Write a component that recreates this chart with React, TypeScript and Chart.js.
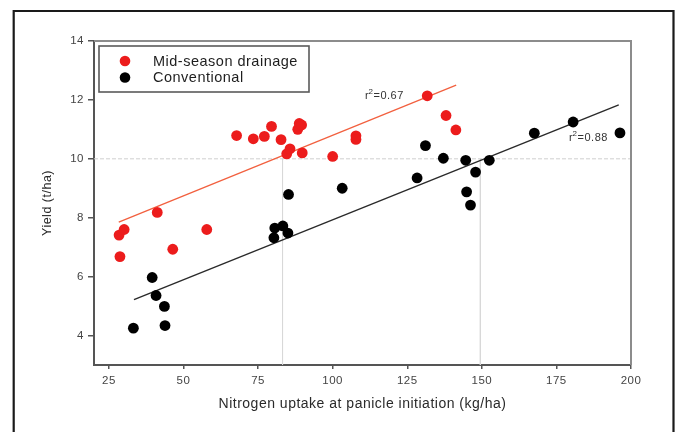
import React, { useEffect, useRef } from "react";
import { Chart, registerables } from "chart.js";

Chart.register(...registerables);

const FONT = '"Liberation Sans", Arial, Helvetica, sans-serif';

// Mid-season drainage (red)
const drainageX = [28.4, 30.1, 28.7, 41.2, 46.4, 57.8, 67.8, 73.4, 77.1, 79.5, 82.7, 84.6, 85.7, 88.3, 88.8, 89.6, 89.8, 100.0, 107.8, 107.8, 131.7, 138.0, 141.3];
const drainageY = [7.41, 7.6, 6.68, 8.18, 6.93, 7.6, 10.79, 10.68, 10.76, 11.1, 10.65, 10.17, 10.34, 11.0, 11.2, 11.15, 10.2, 10.08, 10.78, 10.66, 12.14, 11.47, 10.98];

// Conventional (black)
const conventionalX = [33.2, 39.5, 40.8, 43.6, 43.8, 80.3, 80.6, 83.3, 85.0, 85.2, 103.2, 128.3, 131.1, 137.1, 144.6, 144.9, 146.2, 147.9, 152.5, 167.6, 180.6, 196.3];
const conventionalY = [4.25, 5.97, 5.36, 4.99, 4.34, 7.32, 7.65, 7.72, 7.48, 8.79, 9.0, 9.35, 10.45, 10.02, 9.95, 8.88, 8.43, 9.55, 9.95, 10.87, 11.25, 10.88];

// Regression lines (end points)
const drainageFitX = [28.3, 141.4];
const drainageFitY = [7.85, 12.5];
const conventionalFitX = [33.4, 195.9];
const conventionalFitY = [5.22, 11.83];

// Reference lines
const refYieldValue = 10;
const refUptakeValues = [83.2, 149.5];

const xTicks = [25, 50, 75, 100, 125, 150, 175, 200];
const yTicks = [4, 6, 8, 10, 12, 14];
const xRange = [20, 200];
const yRange = [3, 14];

const seriesLabels = ["Mid-season drainage", "Conventional"];
const seriesColors = ["#ec1c1c", "#000000"];
const fitColors = ["#f2603f", "#2a2a2a"];
const r2Values = ["=0.67", "=0.88"];
const r2AnchorX = [110.8, 179.2];
const r2AnchorY = [12.14, 10.72];

const xTitle = "Nitrogen uptake at panicle initiation (kg/ha)";
const yTitle = "Yield (t/ha)";

const toPoints = (xs: number[], ys: number[]) => xs.map((x, i) => ({ x, y: ys[i] }));

const SPACING = "0.5px";

const decorPlugin = {
  id: "decor",
  beforeUpdate(chart: any) {
    chart.ctx.letterSpacing = SPACING;
  },
  beforeDraw(chart: any) {
    const ctx = chart.ctx;
    ctx.letterSpacing = SPACING;
    ctx.save();
    ctx.fillStyle = "#ffffff";
    ctx.fillRect(0, 0, chart.width, chart.height);
    ctx.strokeStyle = "#1a1a1a";
    ctx.lineWidth = 2.2;
    ctx.beginPath();
    ctx.moveTo(13.7, chart.height + 10);
    ctx.lineTo(13.7, 11);
    ctx.lineTo(673.5, 11);
    ctx.lineTo(673.5, chart.height + 10);
    ctx.stroke();
    ctx.restore();
  },
  afterDatasetsDraw(chart: any) {
    const ctx = chart.ctx;
    const a = chart.chartArea;
    const xs = chart.scales.x;
    const ys = chart.scales.y;
    ctx.save();
    // top & right frame
    ctx.strokeStyle = "#8c8c8c";
    ctx.lineWidth = 2;
    ctx.beginPath();
    ctx.moveTo(a.left, a.top);
    ctx.lineTo(a.right, a.top);
    ctx.lineTo(a.right, a.bottom);
    ctx.stroke();

    // legend box
    const bx = a.left + 5;
    const by = a.top + 5;
    const bw = 210;
    const bh = 46;
    ctx.fillStyle = "#ffffff";
    ctx.fillRect(bx, by, bw, bh);
    ctx.strokeStyle = "#5a5a5a";
    ctx.lineWidth = 1.6;
    ctx.strokeRect(bx, by, bw, bh);
    ctx.font = `14.5px ${FONT}`;
    ctx.textBaseline = "middle";
    ctx.textAlign = "left";
    seriesLabels.forEach((lab, i) => {
      const cy = by + 15 + i * 16.5;
      ctx.fillStyle = seriesColors[i];
      ctx.beginPath();
      ctx.arc(bx + 26, cy, 5.3, 0, Math.PI * 2);
      ctx.fill();
      ctx.fillStyle = "#1e1e1e";
      ctx.fillText(lab, bx + 54, cy + 0.5);
    });

    // r² annotations (r with superscript 2)
    ctx.fillStyle = "#333333";
    ctx.textBaseline = "middle";
    r2Values.forEach((val, i) => {
      const px = xs.getPixelForValue(r2AnchorX[i]);
      const py = ys.getPixelForValue(r2AnchorY[i]);
      ctx.font = `11px ${FONT}`;
      ctx.fillText("r", px, py);
      const rw = ctx.measureText("r").width;
      ctx.font = `8px ${FONT}`;
      ctx.fillText("2", px + rw - 0.5, py - 4);
      const sw = ctx.measureText("2").width;
      ctx.font = `11px ${FONT}`;
      ctx.fillText(val, px + rw + sw - 0.5, py);
    });
    ctx.restore();
  },
};

export default function App() {
  const ref = useRef<HTMLCanvasElement | null>(null);

  useEffect(() => {
    if (!ref.current) return;
    const refLine = { borderColor: "#cfcfcf", borderWidth: 1, pointRadius: 0, showLine: true, fill: false };
    const chart = new Chart(ref.current, {
      type: "scatter",
      data: {
        datasets: [
          {
            label: seriesLabels[0],
            data: toPoints(drainageX, drainageY),
            backgroundColor: seriesColors[0],
            borderColor: seriesColors[0],
            borderWidth: 0,
            pointRadius: 5.4,
          },
          {
            label: seriesLabels[1],
            data: toPoints(conventionalX, conventionalY),
            backgroundColor: seriesColors[1],
            borderColor: seriesColors[1],
            borderWidth: 0,
            pointRadius: 5.4,
          },
          {
            label: "fit-drainage",
            data: toPoints(drainageFitX, drainageFitY),
            showLine: true,
            borderColor: fitColors[0],
            borderWidth: 1.3,
            pointRadius: 0,
          },
          {
            label: "fit-conventional",
            data: toPoints(conventionalFitX, conventionalFitY),
            showLine: true,
            borderColor: fitColors[1],
            borderWidth: 1.4,
            pointRadius: 0,
          },
          {
            label: "ref-h",
            data: [
              { x: xRange[0], y: refYieldValue },
              { x: xRange[1], y: refYieldValue },
            ],
            ...refLine,
            borderDash: [4, 2],
          },
          ...refUptakeValues.map((v) => ({
            label: "ref-v",
            data: [
              { x: v, y: refYieldValue },
              { x: v, y: yRange[0] },
            ],
            ...refLine,
            borderColor: "#d8d8d8",
          })),
        ] as any,
      },
      options: {
        responsive: false,
        animation: false,
        events: [],
        layout: { padding: { left: 0, right: 45, top: 41, bottom: 0 } },
        plugins: {
          legend: { display: false },
          tooltip: { enabled: false },
          title: { display: false },
        },
        scales: {
          x: {
            type: "linear",
            min: xRange[0],
            max: xRange[1],
            afterBuildTicks: (s: any) => {
              s.ticks = xTicks.map((v) => ({ value: v }));
            },
            afterFit: (s: any) => {
              s.height = 67;
            },
            grid: { display: true, drawOnChartArea: false, drawTicks: true, tickLength: 4, color: "#555555", lineWidth: 1.5 },
            border: { display: true, color: "#555555", width: 2 },
            ticks: { color: "#444444", font: { family: FONT, size: 11.5 }, padding: 5, maxRotation: 0, autoSkip: false },
            title: {
              display: true,
              text: xTitle,
              color: "#2a2a2a",
              font: { family: FONT, size: 14 },
              padding: { top: 0, bottom: 19 },
            },
          },
          y: {
            type: "linear",
            min: yRange[0],
            max: yRange[1],
            afterBuildTicks: (s: any) => {
              s.ticks = yTicks.map((v) => ({ value: v }));
            },
            afterFit: (s: any) => {
              s.width = 94;
            },
            grid: { display: true, drawOnChartArea: false, drawTicks: true, tickLength: 6, color: "#555555", lineWidth: 1.5 },
            border: { display: true, color: "#555555", width: 2 },
            ticks: { color: "#444444", font: { family: FONT, size: 11.5 }, padding: 4, autoSkip: false },
            title: {
              display: true,
              text: yTitle,
              color: "#2a2a2a",
              font: { family: FONT, size: 12.5 },
              padding: { top: 40, bottom: 0 },
            },
          },
        },
      },
      plugins: [decorPlugin],
    } as any);
    return () => chart.destroy();
  }, []);

  return (
    <div style={{ position: "fixed", left: 0, top: 0, width: 676, height: 432, background: "#fff" }}>
      <canvas ref={ref} width={676} height={432} style={{ display: "block" }} />
    </div>
  );
}
